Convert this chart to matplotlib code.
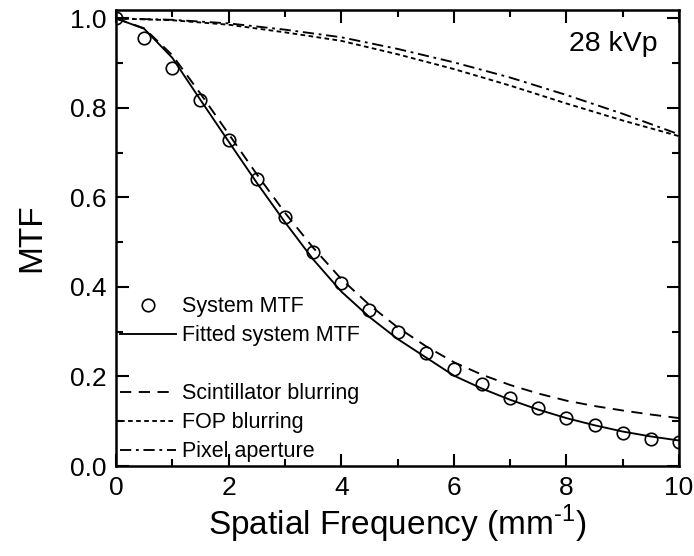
import numpy as np
import matplotlib
matplotlib.use('Agg')
import matplotlib.pyplot as plt
from matplotlib.lines import Line2D

plt.rcParams['font.family'] = ['Liberation Sans', 'DejaVu Sans']
plt.rcParams['mathtext.fontset'] = 'custom'
plt.rcParams['mathtext.rm'] = 'Liberation Sans'

# Measured system MTF (open circles).
freq = np.arange(0, 10.01, 0.5)
system_mtf = [1.0, 0.957, 0.890, 0.817, 0.729, 0.642, 0.556, 0.478, 0.409, 0.349,
              0.300, 0.253, 0.216, 0.183, 0.153, 0.129, 0.107, 0.091, 0.073, 0.061, 0.053]

# Fitted system MTF and scintillator blurring, read on the same grid.
fitted_mtf = [1.0, 0.977, 0.912, 0.818, 0.725, 0.633, 0.545, 0.462, 0.390, 0.333,
              0.284, 0.243, 0.202, 0.173, 0.148, 0.126, 0.107, 0.091, 0.077, 0.066, 0.057]
scint_mtf = [1.0, 0.978, 0.918, 0.832, 0.742, 0.652, 0.566, 0.488, 0.418, 0.360,
             0.310, 0.268, 0.232, 0.204, 0.181, 0.162, 0.146, 0.134, 0.124, 0.115, 0.107]

# FOP blurring and pixel aperture, read at integer frequencies.
freq_int = np.arange(0, 11)
fop_mtf = [1.0, 0.996, 0.986, 0.969, 0.950, 0.920, 0.887, 0.850, 0.810, 0.772, 0.737]
pixel_mtf = [1.0, 0.997, 0.989, 0.975, 0.958, 0.932, 0.902, 0.868, 0.829, 0.787, 0.741]

fig = plt.figure(figsize=(6.94, 5.56), dpi=100)
ax = fig.add_axes([116 / 694, 1 - 466 / 556, (679 - 116) / 694, (466 - 9.5) / 556])

lw = 1.35
ax.plot(freq, system_mtf, 'o', mfc='none', mec='black', ms=9, mew=1.2, zorder=3)
ax.plot(freq, fitted_mtf, '-', color='black', lw=lw)
ax.plot(freq, scint_mtf, color='black', lw=lw, dashes=(6, 4))
ax.plot(freq_int, fop_mtf, color='black', lw=lw, dashes=(2.5, 1.8))
ax.plot(freq_int, pixel_mtf, color='black', lw=lw, dashes=(6, 2.5, 1.5, 2.5))

ax.set_xlim(0, 10)
ax.set_ylim(0, 1.02)
ax.set_xticks(np.arange(0, 11, 2))
ax.set_xticks(np.arange(1, 10, 2), minor=True)
ax.set_yticks(np.arange(0, 1.01, 0.2))
ax.set_yticks(np.arange(0.1, 1.0, 0.2), minor=True)
ax.set_xticklabels(['0', '2', '4', '6', '8', '10'])
ax.set_yticklabels(['0.0', '0.2', '0.4', '0.6', '0.8', '1.0'])
ax.tick_params(which='both', direction='in', top=True, right=True, width=1.5, labelsize=19)
ax.tick_params(which='major', length=9, pad=7)
ax.tick_params(which='minor', length=5)
for s in ax.spines.values():
    s.set_linewidth(1.8)

ax.set_xlabel('Spatial Frequency (mm$^{\\text{-1}}$)', fontsize=24, labelpad=2)
ax.set_ylabel('MTF', fontsize=24, labelpad=16)
ax.text(0.962, 0.925, '28 kVp', transform=ax.transAxes, ha='right', va='center', fontsize=20.5)

handles = [
    Line2D([], [], ls='none', marker='o', mfc='none', mec='black', ms=9, mew=1.2),
    Line2D([], [], color='black', lw=lw),
    Line2D([], [], ls='none'),
    Line2D([], [], color='black', lw=lw, dashes=(6, 4)),
    Line2D([], [], color='black', lw=lw, dashes=(2.5, 1.8)),
    Line2D([], [], color='black', lw=lw, dashes=(6, 2.5, 1.5, 2.5)),
]
labels = ['System MTF', 'Fitted system MTF', ' ', 'Scintillator blurring', 'FOP blurring', 'Pixel aperture']
ax.legend(handles, labels, loc='lower left', bbox_to_anchor=(0.0, 0.0), frameon=False,
          fontsize=15.5, handlelength=2.6, handletextpad=0.3, labelspacing=0.37,
          borderpad=0.1, borderaxespad=0.08)

fig.savefig('out.png', dpi=100)
